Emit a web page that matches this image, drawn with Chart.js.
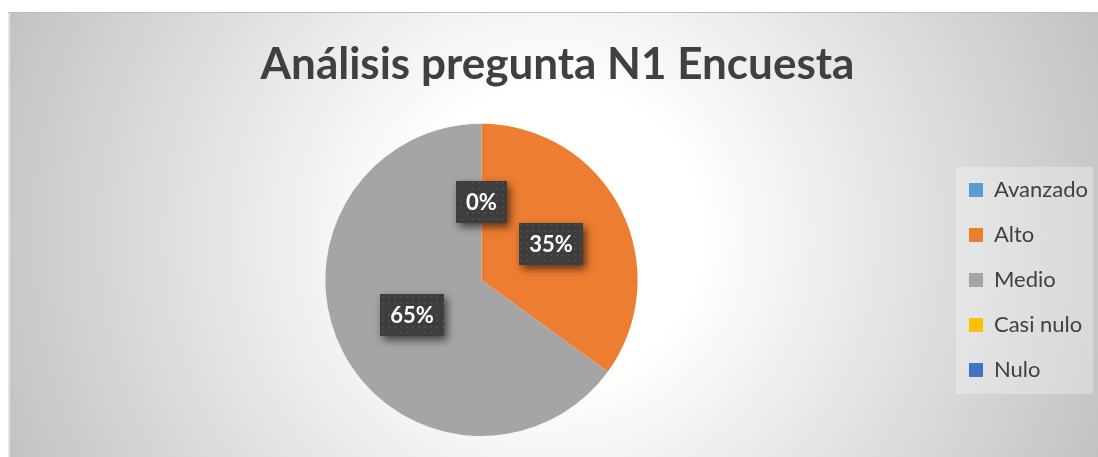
<!DOCTYPE html>
<html>
<head>
  <meta charset="utf-8">
  <title>Análisis pregunta N1 Encuesta</title>
  <script src="https://cdn.jsdelivr.net/npm/chart.js@4.4.1/dist/chart.umd.min.js"></script>
  <style>
    html, body { margin: 0; padding: 0; background: #ffffff; }
    .chartbox { position: absolute; left: 8px; top: 12px; width: 1090px; height: 445px; }
  </style>
</head>
<body>
  <div class="chartbox"><canvas id="myChart"></canvas></div>
  <script>
    const TITLE = "Análisis pregunta N1 Encuesta";
    const categories = ["Avanzado", "Alto", "Medio", "Casi nulo", "Nulo"];
    const values = [0, 35, 65, 0, 0];
    const sliceColors = ["#5B9BD5", "#ED7D31", "#A5A5A5", "#FFC000", "#4472C4"];

    // radial grey background + legend panel
    const backgroundPlugin = {
      id: "background",
      beforeDraw(chart) {
        const { ctx, width, height } = chart;
        const cx = width / 2, cy = height / 2;
        const g = ctx.createRadialGradient(cx, cy, 0, cx, cy, Math.hypot(cx, cy));
        g.addColorStop(0, "#ffffff");
        g.addColorStop(0.25, "#ffffff");
        g.addColorStop(1, "#c2c2c2");
        ctx.save();
        ctx.fillStyle = g;
        ctx.fillRect(0, 0, width, height);
        ctx.fillStyle = "#e4e4e4";
        ctx.fillRect(0, 0, 2, height);
        ctx.fillStyle = "#bdbdbd";
        ctx.fillRect(0, 0, width, 1);

        const legend = chart.legend;
        const hb = legend && legend.legendHitBoxes;
        if (hb && hb.length) {
          const first = hb[0], last = hb[hb.length - 1];
          const x0 = first.left - 13, y0 = first.top - 12;
          const x1 = legend.right - 5, y1 = last.top + last.height + 13;
          ctx.fillStyle = "rgba(255,255,255,0.3)";
          ctx.fillRect(x0, y0, x1 - x0, y1 - y0);
        }
        ctx.restore();
      }
    };

    function dotTile() {
      const c = document.createElement("canvas");
      c.width = 6; c.height = 6;
      const t = c.getContext("2d");
      t.fillStyle = "#3d3d3d";
      t.fillRect(0, 0, 6, 6);
      t.fillStyle = "#4b4b4b";
      t.fillRect(2, 2, 2, 2);
      return c;
    }

    // percentage labels in dark boxes
    const sliceLabelPlugin = {
      id: "sliceLabels",
      afterDatasetsDraw(chart) {
        const { ctx } = chart;
        const meta = chart.getDatasetMeta(0);
        const total = values.reduce((a, b) => a + b, 0);
        const pattern = ctx.createPattern(dotTile(), "repeat");
        const seen = [];
        ctx.save();
        ctx.font = "bold 22px Lato";
        ctx.textAlign = "center";
        ctx.textBaseline = "middle";
        meta.data.forEach((arc, i) => {
          const p = arc.getCenterPoint();
          const key = Math.round(p.x) + "," + Math.round(p.y);
          if (seen.includes(key)) return;
          seen.push(key);
          const text = Math.round(values[i] / total * 100) + "%";
          const w = Math.round(ctx.measureText(text).width + 20);
          const h = 42;
          const x = Math.round(p.x - w / 2), y = Math.round(p.y - h / 2);
          ctx.save();
          ctx.shadowColor = "rgba(0,0,0,0.6)";
          ctx.shadowBlur = 8;
          ctx.shadowOffsetX = 3;
          ctx.shadowOffsetY = 4;
          ctx.fillStyle = "#3d3d3d";
          ctx.fillRect(x, y, w, h);
          ctx.restore();
          ctx.fillStyle = pattern;
          ctx.fillRect(x, y, w, h);
          ctx.fillStyle = "#ffffff";
          ctx.fillText(text, x + w / 2, y + h / 2 + 1);
        });
        ctx.restore();
      }
    };

    const config = {
      type: "pie",
      data: {
        labels: categories,
        datasets: [{
          data: values,
          backgroundColor: sliceColors,
          borderWidth: 0,
          hoverOffset: 0
        }]
      },
      options: {
        responsive: true,
        maintainAspectRatio: false,
        animation: false,
        events: [],
        layout: { padding: { left: 9, right: 0, top: 0, bottom: 21 } },
        plugins: {
          title: {
            display: true,
            text: TITLE,
            color: "#404040",
            font: { family: "Lato", size: 44, weight: "bold" },
            padding: { top: 26, bottom: 33 }
          },
          legend: {
            position: "right",
            fullSize: false,
            maxWidth: 154,
            labels: {
              boxWidth: 14,
              boxHeight: 14,
              padding: 23,
              color: "#404040",
              font: { family: "Lato", size: 22 }
            }
          },
          tooltip: { enabled: false }
        }
      },
      plugins: [backgroundPlugin, sliceLabelPlugin]
    };

    const ctx = document.getElementById("myChart");
    const myChart = new Chart(ctx, config);
  </script>
</body>
</html>
